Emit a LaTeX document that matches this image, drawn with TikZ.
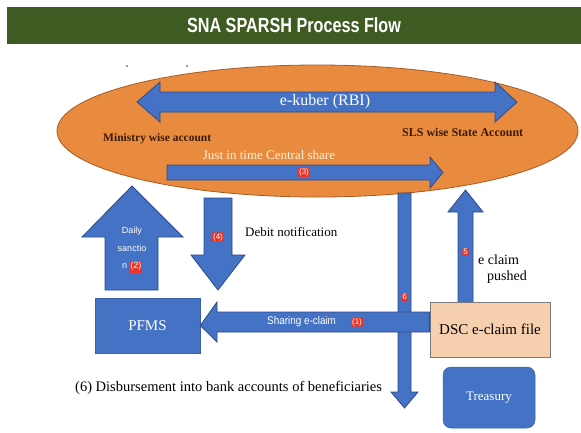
\documentclass[tikz,border=0pt]{standalone}
\usepackage{fontspec}
\usetikzlibrary{shapes.geometric}
\setmainfont{Liberation Serif}
\setsansfont{Liberation Sans}
\definecolor{titlegreen}{HTML}{3E5B21}
\definecolor{ellorange}{HTML}{E98B3F}
\definecolor{elledge}{HTML}{A65A24}
\definecolor{blk}{HTML}{4472C4}
\definecolor{blkedge}{HTML}{2F4A86}
\definecolor{peach}{HTML}{F6CFAF}
\definecolor{peachedge}{HTML}{7A7A7A}
\definecolor{lblred}{HTML}{E8352B}
\definecolor{darkbrown}{HTML}{3B1B08}
\definecolor{cream}{HTML}{FFF1DC}
\tikzset{
  blockarrow/.style={fill=blk,draw=blkedge,line width=0.8pt,line join=miter},
  redlbl/.style={fill=lblred,text=white,font=\sffamily\fontsize{8}{9}\selectfont,inner sep=1pt,rounded corners=1pt},
  serif/.style={font=\fontsize{#1}{#1}\selectfont},
  bluebox/.style={fill=blk,draw=blk!85!black,line width=0.5pt,text=white},
}
\begin{document}
\begin{tikzpicture}[x=1pt,y=-1pt]
\useasboundingbox[fill=white] (0,0) rectangle (581,432);
% title bar
\node[fill=titlegreen,minimum width=574pt,minimum height=37pt,inner sep=0pt,anchor=north west] (bar) at (7,7) {};
\node[text=white,font=\sffamily\bfseries\fontsize{20.5}{21}\selectfont] (title) at (294,25) {\scalebox{0.79}[1]{SNA SPARSH Process Flow}};
% stray dots
\fill[black!80] (127,66) circle (0.9) (187,66) circle (0.9);
% ellipse
\node[ellipse,draw=elledge,fill=ellorange,line width=0.8pt,minimum width=521pt,minimum height=132pt,inner sep=0pt] (rbi) at (317.5,131) {};
% e-kuber double arrow
\fill[blockarrow] (137,102) -- (160,82) -- (160,92) -- (495,92) -- (495,82) -- (517,102) -- (495,122) -- (495,112) -- (160,112) -- (160,122) -- cycle;
\node[text=white,serif=16] (ekuber) at (325,102) {e-kuber (RBI)};
\node[anchor=west,text=darkbrown,font=\bfseries\fontsize{11.5}{12}\selectfont,inner sep=0pt] (min) at (103,139) {Ministry wise account};
\node[anchor=west,text=darkbrown,font=\bfseries\fontsize{12}{12}\selectfont,inner sep=0pt] (sls) at (402,132) {SLS wise State Account};
\node[text=cream,serif=13,inner sep=0pt] (jit) at (269,155) {Just in time Central share};
% arrow 3
\fill[blockarrow] (167,165) -- (430,165) -- (430,157) -- (443,172.5) -- (430,188) -- (430,180) -- (167,180) -- cycle;
\node[redlbl] (l3) at (304,172.5) {(3)};
% arrow 6 (down, long)
\fill[blockarrow] (398,193) -- (411,193) -- (411,392) -- (418,392) -- (404.5,408) -- (391,392) -- (398,392) -- cycle;
\node[redlbl] (l6) at (404.5,297) {6};
% daily sanction up arrow
\fill[blockarrow] (132,186) -- (183,237) -- (158,237) -- (158,290) -- (105,290) -- (105,237) -- (82,237) -- cycle;
\node[text=white,font=\sffamily\fontsize{9}{17.5}\selectfont,align=center,inner sep=0pt] (daily) at (132,250) {Daily\\sanctio\\n \colorbox{lblred}{\hspace{-2.5pt}\raisebox{0pt}[5pt][1pt]{(2)}\hspace{-2.5pt}}};
% debit down arrow
\fill[blockarrow] (204,198) -- (232,198) -- (232,255) -- (245,255) -- (218,290) -- (191,255) -- (204,255) -- cycle;
\node[redlbl] (l4) at (218,237) {(4)};
\node[anchor=west,serif=13,inner sep=0pt] (debit) at (245,232) {Debit notification};
% arrow 5 up
\fill[blockarrow] (465.5,190) -- (483,212) -- (473,212) -- (473,303) -- (458,303) -- (458,212) -- (448,212) -- cycle;
\node[redlbl] (l5) at (465.5,252) {5};
\node[anchor=west,serif=14,inner sep=0pt] (ecl) at (478,260) {e claim};
\node[anchor=west,serif=14,inner sep=0pt] (push) at (487,277) {pushed};
% boxes
\node[bluebox,minimum width=105pt,minimum height=55pt,inner sep=0pt,serif=15] (pfms) at (147.5,325.5) {PFMS};
\node[fill=peach,draw=peachedge,line width=0.8pt,minimum width=120pt,minimum height=55pt,inner sep=0pt,serif=15] (dsc) at (490,329.5) {DSC e-claim file};
\node[bluebox,rounded corners=8pt,minimum width=92pt,minimum height=61pt,inner sep=0pt,serif=13] (treas) at (489,397.5) {Treasury};
% sharing arrow (left)
\fill[blockarrow] (dsc.west |- 0,312) -- (217,312) -- (217,302) -- (pfms.east) -- (217,342) -- (217,332) -- (dsc.west |- 0,332) -- cycle;
\node[anchor=west,text=white,font=\sffamily\fontsize{11}{12}\selectfont,inner sep=0pt] (share) at (267,322) {\scalebox{0.9}[1]{Sharing e-claim}};
\node[redlbl] (l1) at (357,322) {(1)};
% bottom text
\node[anchor=west,serif=14.5,inner sep=0pt] (disb) at (75,388) {(6) Disbursement into bank accounts of beneficiaries};
\end{tikzpicture}
\end{document}
